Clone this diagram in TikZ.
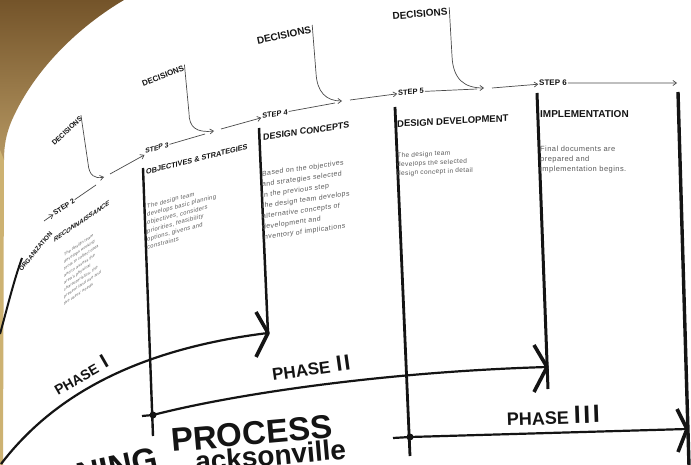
\documentclass[tikz,border=0pt]{standalone}
\usepackage{fontspec}
\setmainfont{Liberation Sans}
\newfontfamily\bodyfont[LetterSpace=6]{Liberation Sans}
\usetikzlibrary{arrows.meta}
\definecolor{ink}{HTML}{141414}
\definecolor{flow}{HTML}{4A4A4A}
\definecolor{bodygray}{HTML}{5A5A5A}
\definecolor{brownA}{HTML}{74542A}
\definecolor{brownB}{HTML}{B89A64}
\definecolor{goldstrip}{HTML}{CDB272}
\tikzset{
  stepbox/.style={font=\bfseries\fontsize{#1}{#1}\selectfont, inner sep=0.8pt, text=ink},
  titlebox/.style={font=\bfseries\fontsize{#1}{#1}\selectfont, inner sep=0pt, anchor=west, text=ink},
  bodybox/.style 2 args={font=\bodyfont\fontsize{#1}{#2}\selectfont, align=left, inner sep=0pt, anchor=north west, text=bodygray},
  decbox/.style={font=\bfseries\fontsize{#1}{#1}\selectfont, inner sep=0.5pt, text=ink},
  phasebox/.style={font=\bfseries\fontsize{#1}{#1}\selectfont, inner sep=0pt, anchor=base west, text=ink},
  bigtitle/.style={font=\bfseries\fontsize{#1}{#1}\selectfont, inner sep=0pt, text=ink},
  flowline/.style={draw=flow, line width=0.7pt},
  flowarrow/.style={flowline, -{Straight Barb[length=3.5pt,width=5pt]}},
  decline/.style={draw=flow, line width=0.7pt, -{Straight Barb[length=3.5pt,width=5pt]}},
  phaseline/.style={draw=ink, line width=2.2pt},
  vline/.style={draw=ink, line width=#1},
  chevron/.style={draw=ink, line width=3.6pt, line join=bevel},
  junction/.style={circle, fill=ink, inner sep=0pt, minimum size=7pt},
  sheartwo/.style={cm={0.829,0.559,0,1,(0,0)}}
}
\begin{document}
\begin{tikzpicture}[x=1pt,y=-1pt]
\useasboundingbox (0,0) rectangle (691,465);
\clip (0,0) rectangle (691,465);
\fill[white] (0,0) rectangle (691,465);

% page curl / background in the top-left corner
\shade[top color=brownA, bottom color=brownB]
  (0,0) -- (124,0) .. controls (80,26) and (35,68) .. (12,120)
  .. controls (6,134) and (4,146) .. (4,160) -- (0,165) -- cycle;
\fill[goldstrip] (0,150) -- (4,160) -- (3,465) -- (0,465) -- cycle;

% ---------- vertical column lines ----------
\coordinate (v3t) at (143,168); \coordinate (v3b) at (153,436);
\coordinate (v4t) at (259,128); \coordinate (v4b) at (268,334);
\coordinate (v5t) at (395,107); \coordinate (v5b) at (410,456);
\coordinate (v6t) at (537,93);  \coordinate (v6b) at (548,389);
\coordinate (v7t) at (678,92);  \coordinate (v7b) at (689,466);
\coordinate (v2t) at (22,258);  \coordinate (v2b) at (0,334);
\draw[vline=2pt] (v2t) .. controls (14,280) and (8,305) .. (v2b);
\draw[vline=2.4pt] (v3t) -- (v3b);
\draw[vline=2.5pt] (v4t) -- (v4b);
\draw[vline=2.8pt] (v5t) -- (v5b);
\draw[vline=3pt] (v6t) -- (v6b);
\draw[vline=3.4pt] (v7t) -- (v7b);

% ---------- step labels ----------
\node[stepbox=7, rotate=33] (s2) at (64,207) {STEP 2};
\node[stepbox=7, cm={0.956,0.292,0,1,(0,0)}] (s3) at (157,148) {STEP 3};
\node[stepbox=7.5, cm={0.985,0.174,0,1,(0,0)}] (s4) at (275,114) {STEP 4};
\node[stepbox=7.5, cm={0.998,0.070,0,1,(0,0)}] (s5) at (411,92) {STEP 5};
\node[stepbox=8, cm={1,0.017,0,1,(0,0)}] (s6) at (553,83) {STEP 6};

% ---------- flow line ----------
\coordinate (s1out) at (44,221);
\coordinate (m1a) at (96,185);  \coordinate (m1b) at (110,174);
\coordinate (m2a) at (205,134); \coordinate (m2b) at (221,129);
\coordinate (m3a) at (335,103); \coordinate (m3b) at (350,100);
\coordinate (m4a) at (477,89);  \coordinate (m4b) at (492,88);
\coordinate (s6end) at (677,83);
\draw[flowarrow] (s1out) -- (s2);
\draw[flowline] (s2) -- (m1a);
\draw[flowarrow] (m1b) -- (s3);
\draw[flowline] (s3) -- (m2a);
\draw[flowarrow] (m2b) -- (s4);
\draw[flowline] (s4) -- (m3a);
\draw[flowarrow] (m3b) -- (s5);
\draw[flowline] (s5) -- (m4a);
\draw[flowarrow] (m4b) -- (s6);
\draw[flowarrow] (s6) -- (s6end);

% ---------- decisions ----------
\node[decbox=7, rotate=43] (dec1) at (67,131) {DECISIONS};
\node[decbox=8, rotate=21] (dec2) at (163,76) {DECISIONS};
\node[decbox=10, rotate=12] (dec3) at (284,35) {DECISIONS};
\node[decbox=10, rotate=5] (dec4) at (420,14) {DECISIONS};
\coordinate (d1b) at (88,163);  \coordinate (t1) at (104,177);
\coordinate (d2b) at (189,113); \coordinate (t2) at (214,131);
\coordinate (d3b) at (316,73);  \coordinate (t3) at (342,101);
\coordinate (d4b) at (452,56);  \coordinate (t4) at (484,88);
\draw[decline] ([xshift=1.5pt]dec1.north east) -- (d1b) .. controls (89,176) and (95,179) .. (t1);
\draw[decline] ([xshift=1.5pt]dec2.north east) -- (d2b) .. controls (189,127) and (196,133) .. (t2);
\draw[decline] ([xshift=1.5pt]dec3.north east) -- (d3b) .. controls (317,92) and (326,101) .. (t3);
\draw[decline] ([xshift=1.5pt]dec4.north east) -- (d4b) .. controls (453,80) and (465,88) .. (t4);

% ---------- titles ----------
\node[titlebox=6.3, rotate=50] (t1t) at (20,270) {ORGANIZATION};
\node[titlebox=7, sheartwo] (t2t) at (54,240) {RECONNAISSANCE};
\node[titlebox=7.5, cm={0.970,0.242,0,1,(0,0)}] (t3t) at (146,172) {OBJECTIVES \& STRATEGIES};
\node[titlebox=9, cm={0.990,0.139,0,1,(0,0)}] (t4t) at (263,137) {DESIGN CONCEPTS};
\node[titlebox=9.5, cm={0.9986,0.052,0,1,(0,0)}] (t5t) at (397,124) {DESIGN DEVELOPMENT};
\node[titlebox=10] (t6t) at (540,114) {IMPLEMENTATION};

% ---------- body texts ----------
\node[bodybox={4.3}{7}, sheartwo] (b2) at (64,253)
  {The design team\\develops working\\tools to collect data\\and to assess the\\area's physical\\characteristics, the\\present land use and\\the users' needs};
\node[bodybox={6}{8.2}, cm={0.966,0.259,0,1,(0,0)}] (b3) at (147,204)
  {The design team\\develops basic planning\\objectives, considers\\priorities, feasibility\\options, givens and\\constraints};
\node[bodybox={7}{10.6}, cm={0.990,0.139,0,1,(0,0)}] (b4) at (262,171)
  {Based on the objectives\\and strategies selected\\in the previous step\\the design team develops\\alternative concepts of\\development and\\inventory of implications};
\node[bodybox={6.5}{9}, cm={0.9986,0.052,0,1,(0,0)}] (b5) at (397,153)
  {The design team\\develops the selected\\design concept in detail};
\node[bodybox={7.5}{10}] (b6) at (540,146)
  {Final documents are\\prepared and\\implementation begins.};

% ---------- phases ----------
\node[junction] (j2) at (153,415) {};
\node[junction] (j3) at (410,437) {};
\coordinate (p1s) at (1,464);   \coordinate (p1e) at (268,333);
\coordinate (p2e) at (547,367); \coordinate (p3e) at (687,429);
\coordinate (j2l) at (142,416); \coordinate (j3l) at (393,438);
\draw[phaseline] (p1s) .. controls (50,400) and (130,350) .. (p1e);
\draw[phaseline] (j2l) -- (j2.center) .. controls (230,395) and (380,372) .. (p2e);
\draw[phaseline] (j3l) -- (j3.center) -- (p3e);
\draw[chevron] (p1e) ++(-12,-21) -- (p1e) -- ++(-12,24);
\draw[chevron] (p2e) ++(-13,-22) -- (p2e) -- ++(-13,25);
\draw[chevron] (p3e) ++(-10,-20) -- (p3e) -- ++(-9,23);

\node[phasebox=14, rotate=30] (ph1) at (58,396) {PHASE\hspace{6pt}{\fontsize{20}{20}\selectfont I}};
\node[phasebox=17, rotate=8] (ph2) at (273,381) {PHASE\hspace{6pt}{\fontsize{22}{22}\selectfont I\kern2pt I}};
\node[phasebox=18, rotate=2] (ph3) at (507,426) {PHASE\hspace{5pt}{\fontsize{25}{25}\selectfont I\kern2.5pt I\kern2.5pt I}};

% ---------- big title ----------
\node[bigtitle=33, rotate=12, anchor=base east] (tn) at (160,469) {NING};
\node[bigtitle=33, rotate=5, anchor=base west] (tp) at (172,452) {PROCESS};
\node[bigtitle=28, rotate=5, anchor=base west] (tj) at (196,472) {acksonville};
\end{tikzpicture}
\end{document}
